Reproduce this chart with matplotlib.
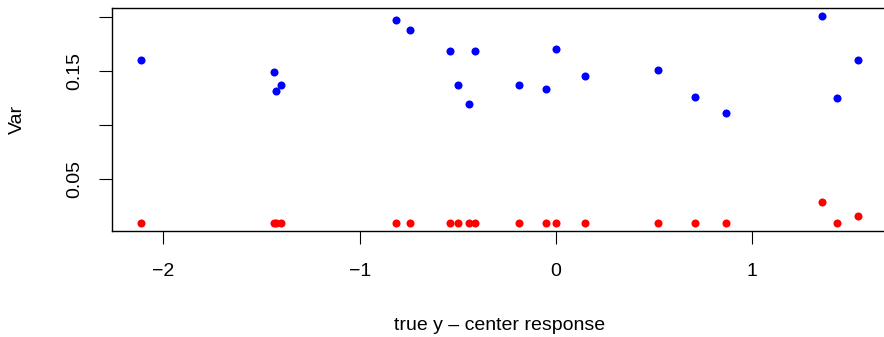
import matplotlib
matplotlib.use("Agg")
import matplotlib.pyplot as plt

# x positions (true y - center response) and the two variance series
x_vals = [-2.114, -1.437, -1.426, -1.399, -0.815, -0.745, -0.538, -0.501,
          -0.445, -0.411, -0.190, -0.052, 0.002, 0.149, 0.518, 0.708,
          0.864, 1.355, 1.430, 1.537]
var_blue = [0.1596, 0.1491, 0.1313, 0.1371, 0.1965, 0.1879, 0.1685, 0.1368,
            0.1193, 0.1685, 0.1365, 0.1331, 0.1698, 0.1454, 0.1509, 0.1254,
            0.1112, 0.2008, 0.1248, 0.1602]
var_red = [0.0097, 0.0097, 0.0097, 0.0097, 0.0097, 0.0097, 0.0097, 0.0097,
           0.0097, 0.0097, 0.0097, 0.0097, 0.0097, 0.0097, 0.0097, 0.0097,
           0.0097, 0.0285, 0.0097, 0.0158]
x_ticks = [-2, -1, 0, 1]
y_ticks = [0.05, 0.10, 0.15, 0.20]
y_ticklabels = ["0.05", "", "0.15", ""]

plt.rcParams["font.family"] = ["Liberation Sans", "DejaVu Sans"]

W, H = 884, 337
fig = plt.figure(figsize=(W / 100, H / 100), dpi=100)
left, right, top, bottom = 112, 887, 7.5, 231
ax = fig.add_axes([left / W, 1 - bottom / H, (right - left) / W, (bottom - top) / H])

ax.plot(x_vals, var_blue, "o", color="#0000FF", markersize=5.8, markeredgewidth=0)
ax.plot(x_vals, var_red, "o", color="#FF0000", markersize=5.8, markeredgewidth=0)

ax.set_xlim(-2.262, 1.686)
ax.set_ylim(0.002, 0.2084)
ax.set_xticks(x_ticks)
ax.set_xticklabels(["\u22122", "\u22121", "0", "1"])
ax.set_yticks(y_ticks)
ax.set_yticklabels(y_ticklabels, rotation=90, va="center")

for side in ["left", "bottom", "top", "right"]:
    ax.spines[side].set_linewidth(1.0)
    ax.spines[side].set_color("black")

ax.tick_params(axis="both", direction="out", length=9.4, width=0.8,
               labelsize=14, colors="black")
ax.tick_params(axis="x", pad=13.5)
ax.tick_params(axis="y", pad=11)

ax.set_xlabel("true y \u2013 center response", fontsize=14, va="center")
ax.xaxis.set_label_coords(0.5, -0.4237)
ax.set_ylabel("Var", fontsize=14, va="center")
ax.yaxis.set_label_coords(-0.1226, 0.5)

fig.savefig("out.png", dpi=100)
